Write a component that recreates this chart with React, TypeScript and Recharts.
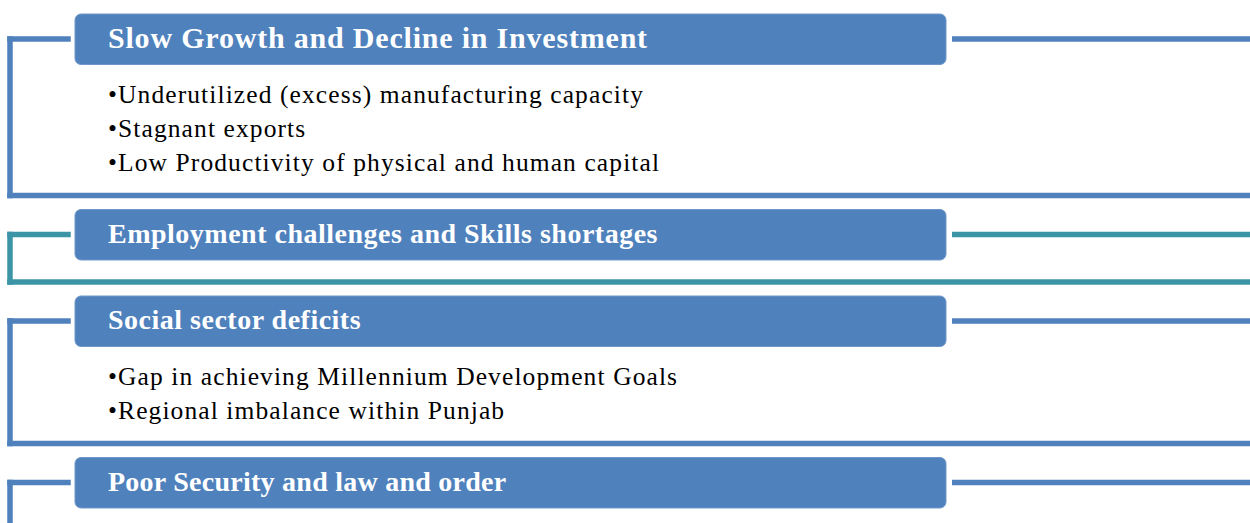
import { ComposedChart, XAxis, YAxis, ReferenceArea, ReferenceLine, Rectangle, Scatter } from "recharts";

const TITLES = [
  "Slow Growth and Decline in Investment",
  "Employment challenges and Skills shortages",
  "Social sector deficits",
  "Poor Security and law and order",
];

const FRAME_COLORS = ["#4f81bd", "#3b95a7", "#4f81bd", "#4f81bd"];

const BULLETS = [
  [
    "Underutilized (excess) manufacturing capacity",
    "Stagnant exports",
    "Low Productivity of physical and human capital",
  ],
  [],
  [
    "Gap in achieving Millennium Development Goals",
    "Regional imbalance within Punjab",
  ],
  [],
];

const W = 1250;
const H = 523;
const FONT = "'Liberation Serif', 'Times New Roman', serif";
const HEADER_FILL = "#4f81bd";

// layout (pixels, same as the axis domains)
const FRAME_X = 10;
const BOX_L = 75;
const BOX_R = 946;
const BOX_H = 50.5;
const TEXT_X = 108;
const LINE_W = 5.5;
const BULLET_SIZE = 25.5;

// first title is set a bit larger in the original
const titleStyle = (i: number) =>
  i === 0 ? { fontSize: 30, letterSpacing: 0.8 } : { fontSize: 28, letterSpacing: i === 3 ? 0.25 : 0.5 };

function buildLayout() {
  let top = 14;
  return TITLES.map((title, i) => {
    const boxTop = top;
    const boxBottom = boxTop + BOX_H;
    const frameTop = boxTop + 25;
    const baselines = BULLETS[i].map((_, j) => boxBottom + 38 + j * 34);
    const frameBottom = baselines.length
      ? baselines[baselines.length - 1] + 25
      : boxBottom + 22;
    top = frameBottom + 14;
    return { title, color: FRAME_COLORS[i], bullets: BULLETS[i], boxTop, boxBottom, frameTop, frameBottom, baselines, x: BOX_L, y: boxTop };
  });
}

export default function App() {
  const sections = buildLayout();

  return (
    <div style={{ position: "absolute", left: 0, top: 0, width: W, height: H, background: "#fff" }}>
      <ComposedChart width={W} height={H} data={sections} margin={{ top: 0, right: 0, bottom: 0, left: 0 }}>
        <XAxis type="number" dataKey="x" domain={[0, W]} allowDataOverflow hide />
        <YAxis type="number" dataKey="y" domain={[0, H]} allowDataOverflow reversed hide width={0} />
        <Scatter dataKey="y" isAnimationActive={false} shape={() => <g />} />
        {sections.map((s, i) => {
          const bottom = Math.min(s.frameBottom, H);
          const lines = [
            <ReferenceLine
              key={`v-${i}`}
              segment={[{ x: FRAME_X, y: s.frameTop }, { x: FRAME_X, y: bottom }]}
              stroke={s.color}
              strokeWidth={LINE_W}
              strokeLinecap="square"
              ifOverflow="visible"
            />,
            <ReferenceLine
              key={`tl-${i}`}
              segment={[{ x: FRAME_X, y: s.frameTop }, { x: 68, y: s.frameTop }]}
              stroke={s.color}
              strokeWidth={LINE_W}
              strokeLinecap="square"
              ifOverflow="visible"
            />,
            <ReferenceLine
              key={`tr-${i}`}
              segment={[{ x: 952, y: s.frameTop }, { x: W, y: s.frameTop }]}
              stroke={s.color}
              strokeWidth={LINE_W}
              ifOverflow="visible"
            />,
          ];
          if (s.frameBottom < H) {
            lines.push(
              <ReferenceLine
                key={`b-${i}`}
                segment={[{ x: FRAME_X, y: s.frameBottom }, { x: W, y: s.frameBottom }]}
                stroke={s.color}
                strokeWidth={LINE_W}
                strokeLinecap="square"
                ifOverflow="visible"
              />
            );
          }
          return lines;
        })}
        {sections.map((s, i) => (
          <ReferenceArea
            key={`box-${i}`}
            x1={BOX_L}
            x2={BOX_R}
            y1={s.boxTop}
            y2={s.boxBottom}
            fill={HEADER_FILL}
            fillOpacity={1}
            stroke="#6f97c9"
            strokeWidth={1}
            ifOverflow="visible"
            shape={(p: any) => <Rectangle {...p} radius={6} />}
          />
        ))}
        {sections.map((s, i) => {
          const mid = (s.boxTop + s.boxBottom) / 2 - 2;
          return (
            <ReferenceArea
              key={`title-${i}`}
              x1={TEXT_X}
              x2={BOX_R}
              y1={mid - 12}
              y2={mid + 12}
              fill="none"
              fillOpacity={0}
              stroke="none"
              ifOverflow="visible"
              label={{
                value: s.title,
                position: "insideLeft",
                offset: 0,
                fill: "#ffffff",
                fontWeight: "bold",
                fontFamily: FONT,
                ...titleStyle(i),
              }}
            />
          );
        })}
        {sections.map((s, i) =>
          s.bullets.map((b, j) => {
            const mid = s.baselines[j] - 0.355 * BULLET_SIZE;
            return (
              <ReferenceArea
                key={`bl-${i}-${j}`}
                x1={TEXT_X}
                x2={BOX_R}
                y1={mid - 12}
                y2={mid + 12}
                fill="none"
                fillOpacity={0}
                stroke="none"
                ifOverflow="visible"
                label={{
                  value: `\u2022${b}`,
                  position: "insideLeft",
                  offset: 0,
                  fill: "#000000",
                  fontSize: BULLET_SIZE,
                  letterSpacing: 1.1,
                  fontFamily: FONT,
                }}
              />
            );
          })
        )}
      </ComposedChart>
    </div>
  );
}
